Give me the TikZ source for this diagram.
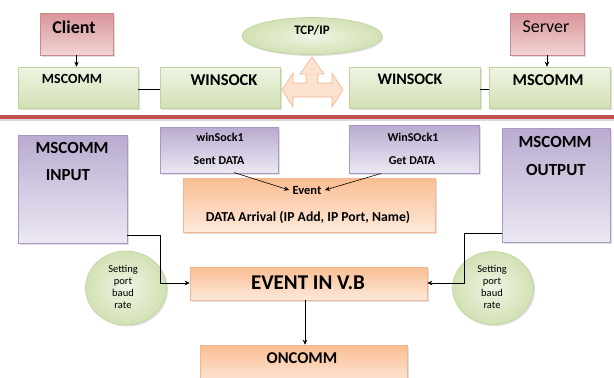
\documentclass[tikz,border=0pt]{standalone}
\usepackage{fontspec}
\setmainfont{Carlito}
\usetikzlibrary{shapes.geometric,shadows,arrows.meta}
\definecolor{grtop}{HTML}{EEF4E3}
\definecolor{grbot}{HTML}{D2E1B4}
\definecolor{grdraw}{HTML}{BFD49A}
\definecolor{pktop}{HTML}{D9959A}
\definecolor{pkbot}{HTML}{F1D3D3}
\definecolor{pkdraw}{HTML}{C98A8D}
\definecolor{putop}{HTML}{B9ABD0}
\definecolor{pubot}{HTML}{ECE8F3}
\definecolor{pudraw}{HTML}{A999C2}
\definecolor{ortop}{HTML}{F9BE92}
\definecolor{orbot}{HTML}{FDE9DB}
\definecolor{ordraw}{HTML}{F2B78E}
\definecolor{redline}{HTML}{C0504D}
\definecolor{arrfill}{HTML}{FCE1CF}
\definecolor{arrdraw}{HTML}{F1B48E}
\begin{document}
\begin{tikzpicture}[x=1pt,y=-1pt,
  shad/.style={drop shadow={opacity=0.25,shadow xshift=1.5pt,shadow yshift=-1.5pt}},
  greenbox/.style={rectangle,draw=grdraw,line width=0.6pt,top color=grtop,bottom color=grbot,shad},
  pinkbox/.style={rectangle,draw=pkdraw,line width=0.6pt,shading angle=30,top color=pktop,bottom color=pkbot,shad},
  purplebox/.style={rectangle,draw=pudraw,line width=0.6pt,shading angle=35,top color=putop,bottom color=pubot,shad},
  orangebox/.style={rectangle,draw=ordraw,line width=0.6pt,shading angle=-25,top color=ortop,bottom color=orbot,shad},
  greenround/.style={draw=grdraw,line width=0.6pt,inner color=grtop,outer color=grbot,shad},
  fs/.style={font=\fontsize{#1}{#1}\selectfont\bfseries},
  tiny/.style={font=\fontsize{10.5}{12}\selectfont,align=center},
  conn/.style={draw=black,line width=0.6pt},
  arr/.style={conn,-{Stealth[length=5pt,width=4.5pt]}}
]
\useasboundingbox (0,0) rectangle (614,378);

% top row
\node[pinkbox,minimum width=73pt,minimum height=42pt] (client) at (76.5,34) {};
\node[pinkbox,minimum width=74pt,minimum height=42pt] (server) at (547,34) {};
\node[greenbox,minimum width=120pt,minimum height=41pt] (mscL) at (78,87.5) {};
\node[greenbox,minimum width=120pt,minimum height=41pt] (winL) at (220,87.5) {};
\node[greenbox,minimum width=131pt,minimum height=41pt] (winR) at (414.5,87.5) {};
\node[greenbox,minimum width=121pt,minimum height=41pt] (mscR) at (549.5,87.5) {};
\node[ellipse,greenround,minimum width=140pt,minimum height=37pt] (tcp) at (312,36) {};

\node[fs=18] (tclient) at (74,27) {Client};
\node[font=\fontsize{18}{18}\selectfont] (tserver) at (546,27) {Server};
\node[fs=14] (tmscL) at (72,79) {MSCOMM};
\node[fs=16.5] (twinL) at (224,80) {WINSOCK};
\node[fs=16] (twinR) at (410,79) {WINSOCK};
\node[fs=16.5] (tmscR) at (548,80) {MSCOMM};
\node[fs=13] (ttcp) at (312,30) {TCP/IP};

\draw[arr] (client.south) -- (client.south |- mscL.north);
\draw[arr] (server.south) -- (server.south |- mscR.north);
\draw[conn] (mscL.east |- 0,89) -- (winL.west |- 0,89);
\draw[conn] (winR.east |- 0,89) -- (mscR.west |- 0,89);

% triple arrow
\draw[arrdraw,fill=arrfill,line width=0.6pt,line join=miter]
  (282,90) -- (293,73) -- (293,83) -- (306,83) -- (306,74) -- (300,74) -- (312,57)
  -- (324,74) -- (318,74) -- (318,83) -- (332,83) -- (332,73) -- (343,90)
  -- (332,107) -- (332,97) -- (293,97) -- (293,107) -- cycle;

% red separator
\fill[black,opacity=0.15] (0,116) rectangle (614,121);
\fill[redline] (0,114.5) rectangle (614,119);

% lower part
\node[purplebox,minimum width=109pt,minimum height=108pt] (inp) at (72.5,189) {};
\node[purplebox,minimum width=118pt,minimum height=46pt] (sent) at (219,150) {};
\node[purplebox,minimum width=130pt,minimum height=48pt] (get) at (414,149) {};
\node[purplebox,minimum width=108pt,minimum height=114pt] (out) at (556,185) {};
\node[orangebox,minimum width=252pt,minimum height=54pt] (evt) at (309,205) {};
\node[orangebox,minimum width=237pt,minimum height=33pt] (evb) at (308.5,283.5) {};
\node[orangebox,minimum width=207pt,minimum height=40pt] (onc) at (303.5,365) {};
\node[ellipse,greenround,minimum width=81pt,minimum height=74pt] (setL) at (126,288) {};
\node[ellipse,greenround,minimum width=81pt,minimum height=73pt] (setR) at (493,288) {};

\node[fs=17] (tinp1) at (72,148) {MSCOMM};
\node[fs=17] (tinp2) at (68,175) {INPUT};
\node[fs=12] (tsent1) at (220,137) {winSock1};
\node[fs=12] (tsent2) at (219,161) {Sent DATA};
\node[fs=12] (tget1) at (413,137) {WinSOck1};
\node[fs=12] (tget2) at (412,161) {Get DATA};
\node[fs=17] (tout1) at (555,142) {MSCOMM};
\node[fs=17] (tout2) at (556,170) {OUTPUT};
\node[fs=12.5] (tevt1) at (307,190) {Event};
\node[fs=13.7] (tevt2) at (308,217) {DATA Arrival (IP Add, IP Port, Name)};
\node[fs=21] (tevb) at (308,283) {EVENT IN V.B};
\node[fs=16.5] (tonc) at (302,358) {ONCOMM};
\node[tiny] (tsetL) at (123,287) {Setting\\port\\baud\\rate};
\node[tiny] (tsetR) at (492,287) {Setting\\port\\baud\\rate};

% connectors
\coordinate (sentfoot) at (234,172.5);
\coordinate (getfoot) at (381,173.5);
\draw[arr] (sentfoot) -- (tevt1.west);
\draw[arr] (getfoot) -- (tevt1.east);
\draw[arr] (inp.east |- 0,235) -| (160,283) -- (evb.west |- 0,283);
\draw[arr] (out.west |- 0,233) -| (464,283) -- (evb.east |- 0,283);
\draw[arr] (evb.south -| 305,0) -- (onc.north -| 305,0);
\end{tikzpicture}
\end{document}
